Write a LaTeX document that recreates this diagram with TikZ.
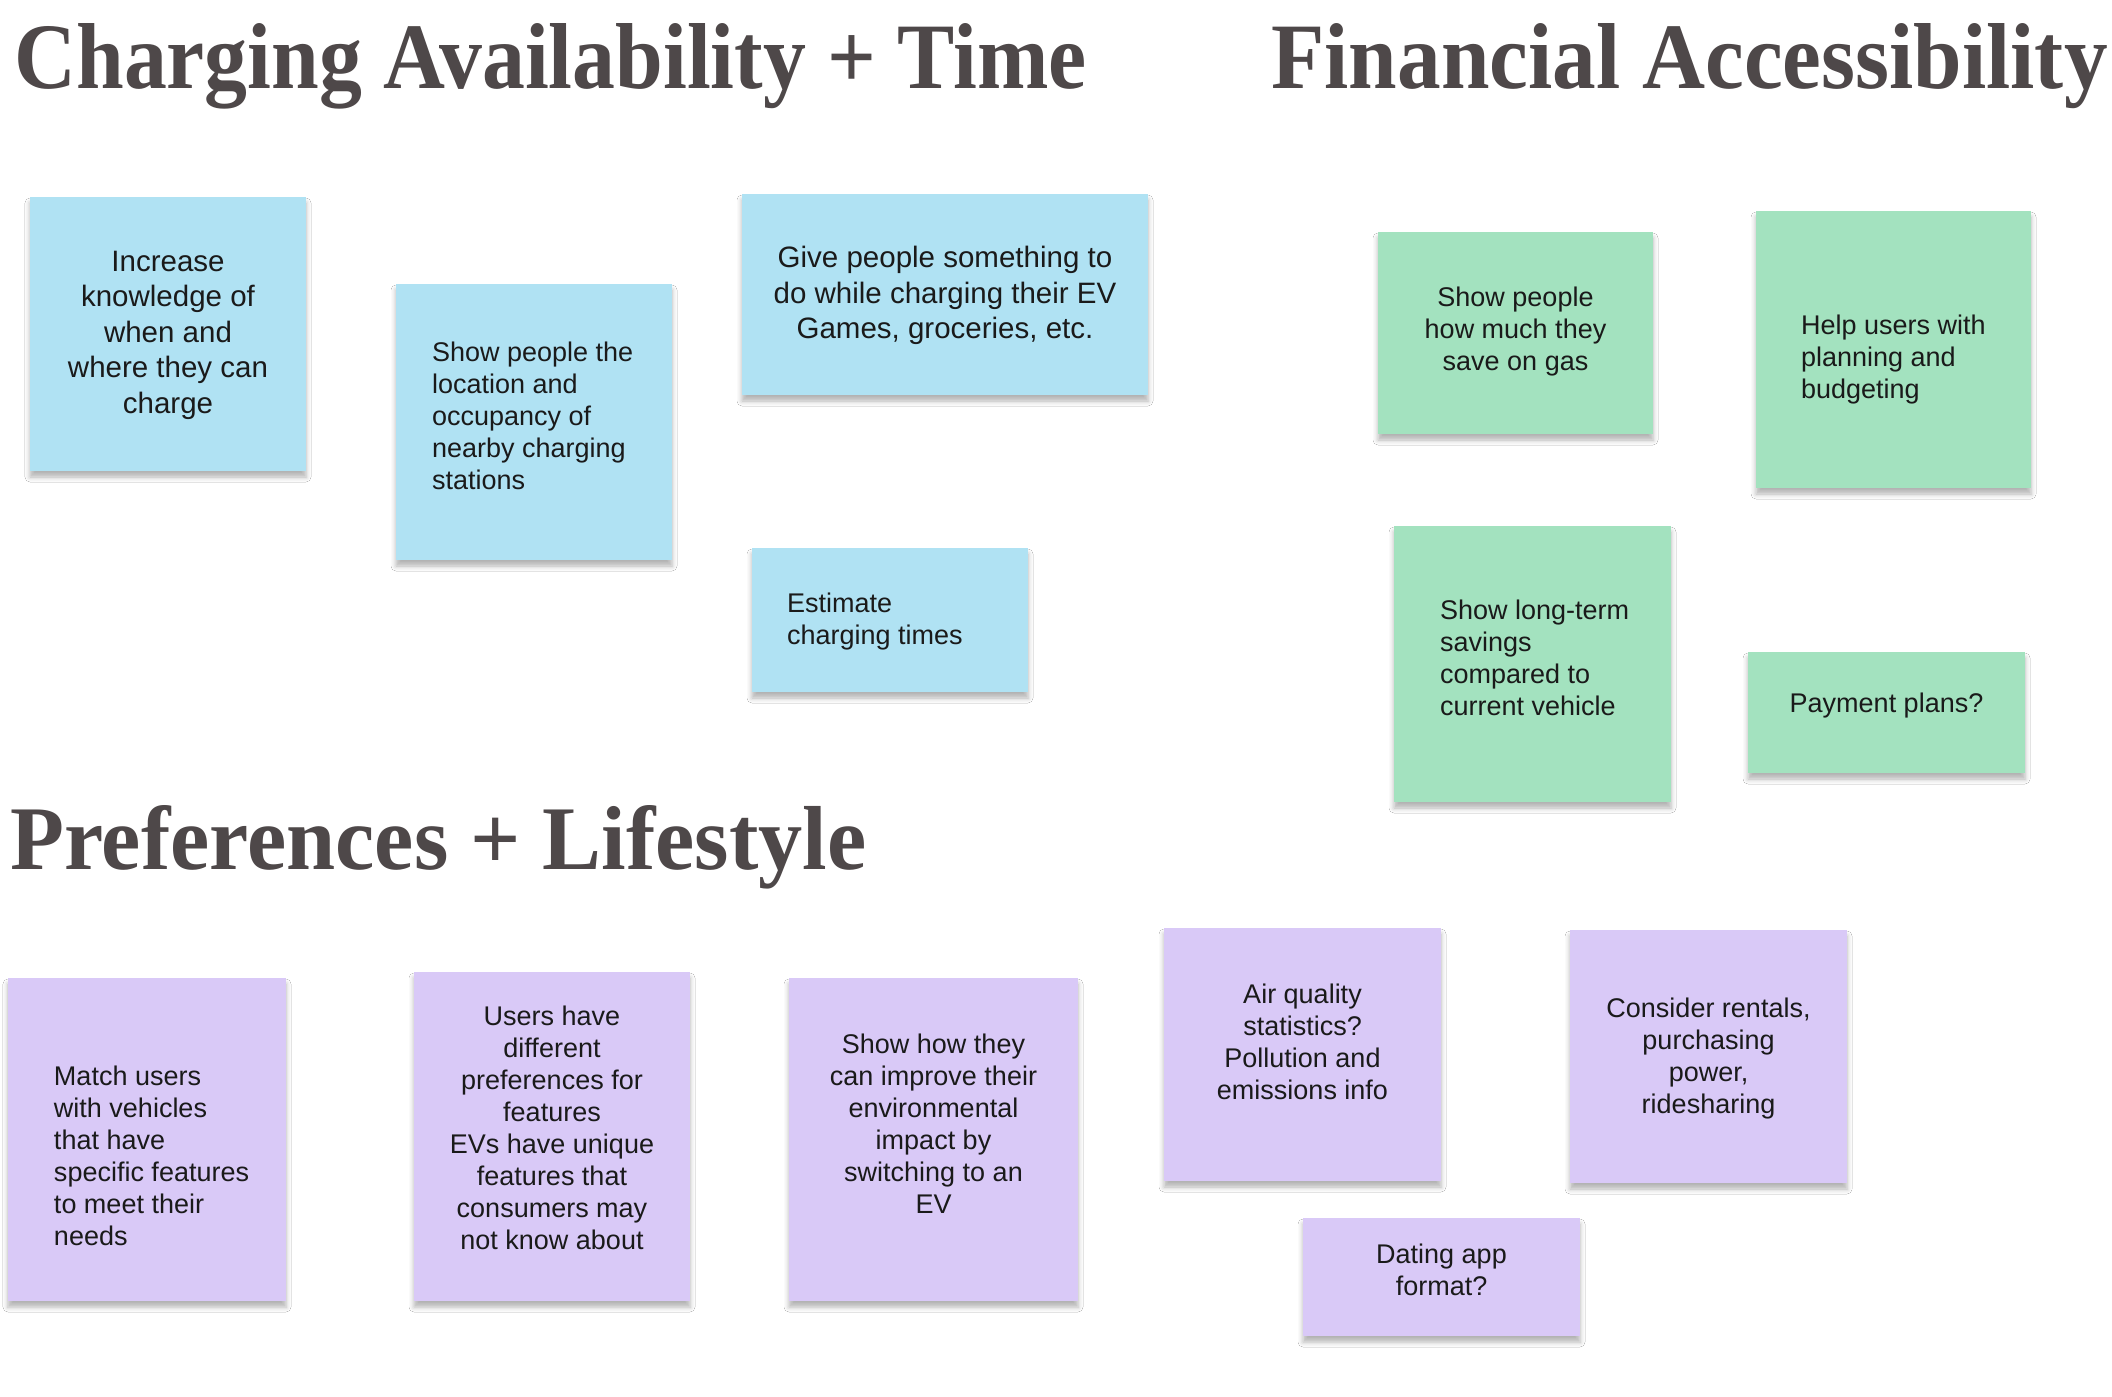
\documentclass[tikz,border=0pt]{standalone}
\usepackage{fontspec}
\newfontfamily\notefont{Liberation Sans}
\newfontfamily\headfont{Liberation Serif}
\usetikzlibrary{fit,shadows.blur}
\definecolor{noteblue}{HTML}{B0E2F3}
\definecolor{notegreen}{HTML}{A3E2BF}
\definecolor{notepurple}{HTML}{D9C9F7}
\definecolor{titlegray}{HTML}{4E4849}
\definecolor{notetext}{HTML}{1A1A1A}
\tikzset{
  notebox/.style={rectangle, inner sep=0pt, draw=none,
    blur shadow={shadow xshift=0pt, shadow yshift=-3pt, shadow blur radius=2.5pt, shadow opacity=30}},
  bigtext/.style={inner sep=0pt, text=notetext, font=\notefont\fontsize{14.75pt}{17.75pt}\selectfont},
  smalltext/.style={inner sep=0pt, text=notetext, font=\notefont\fontsize{13.5pt}{16pt}\selectfont},
  bluefill/.style={fill=noteblue},
  greenfill/.style={fill=notegreen},
  purplefill/.style={fill=notepurple},
  heading/.style={anchor=base west, inner sep=0pt, text=titlegray, font=\headfont\bfseries},
}
\newcommand{\leftlines}[1]{\begin{tabular}{@{}l@{}}#1\end{tabular}}
\begin{document}
\begin{tikzpicture}[x=0.5pt, y=-0.5pt]
\useasboundingbox[fill=white] (0,0) rectangle (2112,1396);

% headings
\node[heading] (h1) at (14,89) {\resizebox{536pt}{32.5pt}{Charging Availability + Time}};
\node[heading] (h2) at (1271,89) {\resizebox{418pt}{32.5pt}{Financial Accessibility}};
\node[heading] (h3) at (10,869) {\resizebox{428pt}{32pt}{Preferences + Lifestyle}};

% note boxes
\node[notebox, bluefill, fit={(30,197) (306,471)}] (n1) {};
\node[notebox, bluefill, fit={(396,284) (672,560)}] (n2) {};
\node[notebox, bluefill, fit={(742,194) (1148,395)}] (n3) {};
\node[notebox, bluefill, fit={(752,548) (1028,692)}] (n4) {};
\node[notebox, greenfill, fit={(1378,232) (1653,434)}] (n5) {};
\node[notebox, greenfill, fit={(1756,211) (2031,488)}] (n6) {};
\node[notebox, greenfill, fit={(1394,526) (1671,802)}] (n7) {};
\node[notebox, greenfill, fit={(1748,652) (2025,773)}] (n8) {};
\node[notebox, purplefill, fit={(8,978) (286,1301)}] (n9) {};
\node[notebox, purplefill, fit={(414,972) (690,1301)}] (n10) {};
\node[notebox, purplefill, fit={(789,978) (1078,1301)}] (n11) {};
\node[notebox, purplefill, fit={(1164,928) (1441,1181)}] (n12) {};
\node[notebox, purplefill, fit={(1570,930) (1847,1183)}] (n13) {};
\node[notebox, purplefill, fit={(1303,1218) (1580,1336)}] (n14) {};

% note texts (yshift in pt: negative moves down)
\node[bigtext, align=center] (t1) at ([yshift=-0.6pt]n1.center) {Increase\\knowledge of\\when and\\where they can\\charge};
\node[smalltext, anchor=west] (t2) at ([xshift=18pt, yshift=1.4pt]n2.west) {\leftlines{Show people the\\location and\\occupancy of\\nearby charging\\stations}};
\node[bigtext, align=center] (t3) at ([yshift=-0.6pt]n3.center) {Give people something to\\do while charging their EV\\Games, groceries, etc.};
\node[smalltext, anchor=west] (t4) at ([xshift=17.5pt, yshift=-0.8pt]n4.west) {\leftlines{Estimate\\charging times}};

\node[smalltext, align=center] (t5) at ([yshift=0.7pt]n5.center) {Show people\\how much they\\save on gas};
\node[smalltext, anchor=west] (t6) at ([xshift=22.5pt, yshift=-5.3pt]n6.west) {\leftlines{Help users with\\planning and\\budgeting}};
\node[smalltext, anchor=west] (t7) at ([xshift=23pt, yshift=1.4pt]n7.west) {\leftlines{Show long-term\\savings\\compared to\\current vehicle}};
\node[smalltext, align=center] (t8) at ([yshift=3.4pt]n8.center) {Payment plans?};

\node[smalltext, anchor=west] (t9) at ([xshift=23pt, yshift=-9.6pt]n9.west) {\leftlines{Match users\\with vehicles\\that have\\specific features\\to meet their\\needs}};
\node[smalltext, align=center] (t10) at ([yshift=4.2pt]n10.center) {Users have\\different\\preferences for\\features\\EVs have unique\\features that\\consumers may\\not know about};
\node[smalltext, align=center] (t11) at ([yshift=7.9pt]n11.center) {Show how they\\can improve their\\environmental\\impact by\\switching to an\\EV};
\node[smalltext, align=center] (t12) at ([yshift=6.2pt]n12.center) {Air quality\\statistics?\\Pollution and\\emissions info};
\node[smalltext, align=center] (t13) at ([yshift=-0.8pt]n13.center) {Consider rentals,\\purchasing\\power,\\ridesharing};
\node[smalltext, align=center] (t14) at ([yshift=3.4pt]n14.center) {Dating app\\format?};
\end{tikzpicture}
\end{document}
